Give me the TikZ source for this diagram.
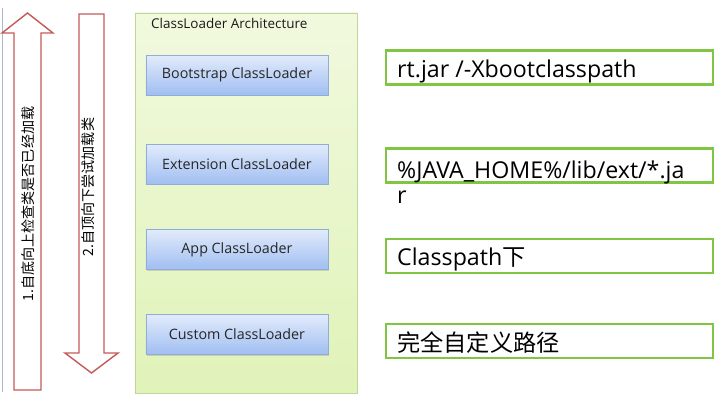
\documentclass[tikz,border=0pt]{standalone}
\usepackage{fontspec}
\setmainfont{Open Sans}
\newfontfamily\cjk{Noto Sans CJK SC}
\usepackage{tikz}
\usetikzlibrary{shadows}
\usepackage{xcolor}
\definecolor{arrowred}{RGB}{196,90,88}
\definecolor{boxgreen}{RGB}{128,198,66}
\definecolor{archtop}{RGB}{241,249,222}
\definecolor{archbot}{RGB}{224,243,184}
\definecolor{archline}{RGB}{192,214,156}
\definecolor{loadertop}{RGB}{226,235,251}
\definecolor{loaderbot}{RGB}{160,190,242}
\definecolor{loaderline}{RGB}{146,172,216}
\definecolor{edgeline}{RGB}{170,184,204}
\tikzset{
  arch/.style     = {draw=archline, thin, rectangle, minimum width=6.66cm,
                     minimum height=11.4cm, top color=archtop, bottom color=archbot},
  loader/.style   = {draw=loaderline, thin, rectangle, minimum width=5.46cm,
                     minimum height=1.2cm, top color=loadertop, bottom color=loaderbot,
                     drop shadow={shadow xshift=0.6pt, shadow yshift=-0.9pt, opacity=0.3},
                     font=\fontsize{12.2}{14}\selectfont, text=black!85},
  pathbox/.style  = {draw=boxgreen, line width=2.4pt, rectangle, inner sep=0pt,
                     minimum width=9.81cm, minimum height=1.02cm},
  pathtext/.style = {anchor=base west, inner sep=0pt, align=left,
                     font=\fontsize{19.8}{21.3}\selectfont},
  bigarrow/.style = {draw=arrowred, line width=1.2pt, fill=white, line join=miter},
  arrowtext/.style= {rotate=90, inner sep=0pt, font=\cjk\fontsize{12}{14}\selectfont},
}

\begin{document}
\begin{tikzpicture}[x=0.03cm,y=-0.03cm]
\useasboundingbox (0,0) rectangle (723,406);
% slide edge
\draw[edgeline, thin] (2,8) -- (2,392);
% the two big arrows
\draw[bigarrow] (14,390) -- (14,33) -- (2,33) -- (27.5,13) -- (53,33)
  -- (41,33) -- (41,390) -- cycle;
\draw[bigarrow] (79,14) -- (104,14) -- (104,353) -- (118,353) -- (91.5,373)
  -- (65,353) -- (79,353) -- cycle;
\node[arrowtext] (up) at (28,204) {1.自底向上检查类是否已经加载};
\node[arrowtext] (down) at (88,187) {2.自顶向下尝试加载类};
% architecture panel
\node[arch] (panel) at (246,203) {};
\node[anchor=base west, inner sep=0pt, font=\fontsize{11.5}{13}\selectfont, text=black!90]
  (title) at (151,28) {ClassLoader Architecture};
\node[loader] (boot) at (237,75) {Bootstrap ClassLoader};
\node[loader] (ext) at (237,164) {Extension ClassLoader};
\node[loader] (app) at (237,249.5) {App ClassLoader};
\node[loader] (custom) at (237,334.5) {Custom ClassLoader};
% load paths
\node[pathbox] (bootpath) at (549.5,67.5) {};
\node[pathbox] (extpath) at (549.5,165.5) {};
\node[pathbox] (apppath) at (549.5,256) {};
\node[pathbox] (custompath) at (549.5,341) {};
\node[pathtext] (boottext) at (397,77) {rt.jar /-Xbootclasspath};
\node[pathtext] (exttext) at (397,203) {\%JAVA\_HOME\%/lib/ext/*.ja\\r};
\node[pathtext] (apptext) at (397,265) {Classpath{\cjk 下}};
\node[pathtext] (customtext) at (397,351) {\cjk 完全自定义路径};
\end{tikzpicture}
\end{document}
